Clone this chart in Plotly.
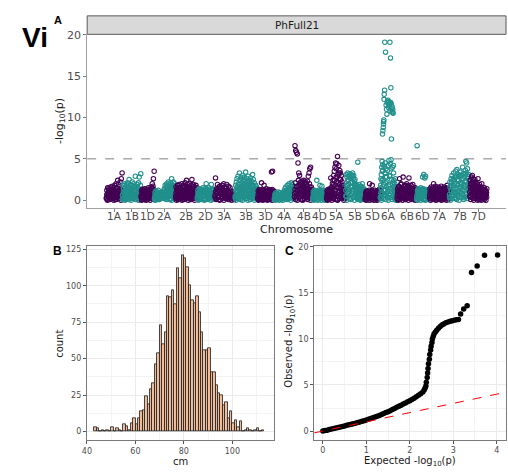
import numpy as np
import plotly.graph_objects as go

W, H = 508, 475
FONT = "DejaVu Sans"
TAG_FONT = "Liberation Sans"
PURPLE = "#440154"
TEAL = "#21908C"
HIST_FILL = "#F2BF9C"
TICK_GREY = "#4D4D4D"

# ---------------- Manhattan data ----------------
CHROMS = ["1A", "1B", "1D", "2A", "2B", "2D", "3A", "3B", "3D", "4A", "4B",
          "4D", "5A", "5B", "5D", "6A", "6B", "6D", "7A", "7B", "7D"]
CHROM_LEN_MB = [594, 689, 495, 780, 801, 651, 750, 831, 615, 745, 674,
                510, 710, 713, 566, 618, 721, 474, 737, 751, 639]

# -log10(p) of each marker (x10), markers listed in chromosome order
LOGP_1A = [3, 12, 6, 15, 1, 9, 14, 4, 11, 7, 16, 2, 13, 8, 5, 17, 10, 3, 15, 6, 12, 18, 1, 9, 20, 4, 14, 7, 24, 11,
           19, 2, 16, 8, 22, 5, 13, 26, 10, 33]
LOGP_1B = [6, 18, 2, 14, 9, 20, 4, 16, 11, 1, 19, 7, 13, 21, 3, 17, 10, 25, 5, 15, 19, 8, 12, 2, 18, 22, 6, 14, 9, 20,
           3, 16, 11, 29, 7, 17, 13, 1, 19, 5, 15, 21, 8, 28, 12, 4, 18, 32]
LOGP_1D = [4, 11, 1, 13, 7, 9, 2, 12, 5, 14, 8, 3, 10, 13, 1, 6, 12, 9, 4, 15, 2, 11, 7, 13, 3, 10, 16, 6, 14, 20,
           9, 17, 26, 12, 35]
LOGP_2A = [3, 9, 1, 11, 6, 8, 2, 10, 4, 12, 7, 1, 9, 5, 8, 6, 10, 7, 9, 6, 8, 5, 11, 2, 14, 7, 18, 4, 16, 9,
           20, 3, 17, 11, 22, 6, 19, 13, 1, 21, 8, 15, 26, 5, 18, 10, 22, 2, 16, 12, 20, 7]
LOGP_2B = [5, 16, 2, 13, 9, 18, 1, 11, 15, 6, 19, 3, 14, 8, 17, 10, 4, 20, 12, 7, 16, 1, 18, 9, 13, 5, 21, 11, 2, 17,
           24, 8, 14, 19, 3, 12, 16, 6, 20, 10, 15, 1, 18, 7, 13, 25, 4, 17, 11, 19, 2, 14, 9, 16, 6, 12, 18, 3, 10, 15]
LOGP_2D = [4, 12, 1, 9, 14, 6, 11, 2, 13, 8, 3, 10, 15, 5, 12, 7, 1, 14, 9, 20, 4, 11, 13, 2, 8, 15, 6, 12, 3, 10,
           19, 7, 14, 1, 9, 13, 5, 11]
LOGP_3A = [6, 27, 2, 14, 9, 19, 4, 12, 16, 1, 17, 8, 15, 11, 3, 18, 7, 13, 20, 5, 16, 10, 2, 14, 19, 8, 12, 4, 17, 9,
           1, 15, 6, 11, 3, 9, 5, 7, 2, 8, 4, 6]
LOGP_3B = [5, 18, 2, 22, 11, 26, 7, 15, 29, 3, 20, 13, 33, 9, 24, 17, 1, 27, 6, 21, 14, 30, 10, 25, 4, 19, 28, 12, 23, 8,
           34, 16, 2, 26, 11, 22, 5, 29, 18, 13, 24, 7, 20, 1, 27, 15, 9, 23, 3, 19, 31, 12, 25, 6, 17, 21, 10, 14, 4, 18,
           8, 16, 2, 12, 6]
LOGP_3D = [3, 11, 1, 9, 13, 5, 12, 7, 2, 10, 21, 4, 13, 8, 1, 11, 6, 18, 9, 3, 12, 5, 10, 14, 2, 8, 12, 6, 11, 1,
           13, 4, 9, 7, 12, 3, 10, 34, 6, 13, 35, 2, 9, 5, 11]
LOGP_4A = [2, 7, 1, 9, 4, 6, 3, 8, 5, 10, 2, 6, 9, 4, 7, 3, 5, 8, 2, 6, 4, 9, 3, 11, 6, 14, 2, 16, 9, 12,
           5, 18, 1, 15, 10, 20, 7, 13, 3, 17, 21, 11, 6, 19, 2, 14, 8, 16]
LOGP_4B = [8, 66, 21, 60, 3, 58, 17, 56, 12, 45, 24, 33, 5, 30, 19, 14, 22, 7, 20, 13, 23, 1, 18, 11, 24, 6, 21, 15, 4, 22,
           10, 19, 3, 17, 23, 8, 29, 14, 33, 20, 38, 12, 40, 5, 16, 9, 13, 2]
LOGP_4D = [3, 10, 1, 8, 12, 5, 9, 2, 11, 6, 24, 4, 10, 7, 1, 12, 8, 3, 18, 9, 5, 11, 2, 17, 7, 10, 4, 12, 6, 1,
           9, 11, 3, 8, 5]
LOGP_5A = [4, 11, 1, 9, 13, 6, 10, 2, 12, 8, 14, 5, 11, 27, 3, 13, 16, 9, 20, 6,
           24, 2, 30, 12, 35, 5, 40, 18, 45, 8, 38, 22, 44, 1, 53, 15, 31, 4, 42, 26,
           19, 36, 7, 33, 25, 14, 30, 3, 22, 12, 18, 4, 15, 9, 13, 2, 10, 6, 12, 3]
LOGP_5B = [12, 31, 5, 28, 18, 33, 9, 25, 30, 14, 32, 2, 27, 21, 31, 8, 29, 16, 33, 11, 26, 30, 4, 23, 17, 20, 6, 15, 10, 18,
           2, 13, 46, 8, 16, 4, 19, 11, 1, 14, 7, 17, 3, 12, 20, 9, 15, 5, 11, 2, 13, 7]
LOGP_5D = [3, 9, 1, 11, 6, 8, 2, 10, 5, 12, 20, 4, 9, 7, 1, 11, 18, 3, 8, 6, 10, 2, 12, 5, 9, 1, 7, 11, 4, 10,
           3, 8, 13, 6, 9]
LOGP_6A = [4, 18, 9, 26, 2, 31, 14, 40, 7, 47,
           35, 80, 43, 84, 25, 88, 92, 95, 97, 122,
           128, 12, 133, 191, 33, 45, 21, 179, 6, 38,
           115, 16, 110, 28, 104, 9, 118, 36, 120, 3,
           121, 42, 112, 19, 119, 48, 114, 116, 30, 117,
           191, 108, 44, 172, 118, 136, 49, 116, 74, 111,
           25, 107, 113, 40, 106, 109, 13, 105, 22, 33,
           11, 24, 6, 17, 3, 20, 8, 14, 2, 10,
           5, 15, 1, 12, 7, 9, 4, 11]
LOGP_6B = [5, 14, 1, 11, 17, 7, 26, 3, 13, 9, 19, 2, 15, 11, 6, 28, 12, 4, 17, 8, 14, 1, 18, 10, 20, 6, 13, 16, 3, 11,
           27, 9, 15, 2, 12, 18, 7, 14, 5, 10, 16, 1, 13, 8, 11, 4, 15, 9, 6, 12]
LOGP_6D = [4, 66, 12, 1, 9, 14, 6, 11, 2, 13, 8, 15, 3, 10, 7, 12, 28, 5, 14, 31, 1, 9, 27, 11, 29, 6, 13, 3, 10, 8,
           12, 2, 9, 5, 11]
LOGP_7A = [6, 14, 2, 11, 16, 8, 12, 3, 15, 9, 20, 5, 13, 1, 17, 10, 7, 14, 4, 12, 16, 2, 11, 8, 15, 6, 13, 1, 10, 17,
           9, 3, 14, 7, 12, 5, 16, 11, 2, 13, 8, 15, 4, 10, 18, 6, 14, 1, 12, 9]
LOGP_7B = [7, 22, 3, 18, 26, 11, 30, 5, 24, 15, 33, 9, 27, 20, 2, 35, 13, 29, 37, 6, 25, 18, 31, 10, 28, 4, 34, 21, 16, 30,
           8, 26, 40, 12, 32, 19, 3, 28, 23, 36, 47, 33, 45, 17, 38, 29, 14, 31, 22, 11]
LOGP_7D = [10, 24, 4, 20, 15, 28, 7, 22, 30, 13, 26, 2, 19, 23, 9, 17, 25, 5, 21, 12, 18, 3, 16, 20, 8, 14, 26, 11, 17, 1,
           15, 19, 6, 13, 10, 16, 3, 12, 20, 7, 14, 9, 11, 2, 13, 8, 15, 5, 10, 12, 4, 11, 7, 9, 14]

# second marker panel (weaker associations), also x10, in chromosome order
LOW_1A = [2, 7, 0, 5, 10, 3, 8, 1, 6, 11, 4, 9, 2, 7, 12, 0, 5, 8, 3, 10, 1, 6, 9, 4, 11, 2, 7, 5, 13, 0, 8, 3]
LOW_1B = [1, 6, 10, 3, 8, 0, 12, 5, 2, 9, 14, 4, 7, 1, 11, 6, 3, 10, 0, 8, 13, 5, 2, 9, 4, 12, 7, 1, 10, 6, 3, 15, 8, 0,
          11, 5, 2, 9]
LOW_1D = [5, 0, 8, 3, 10, 1, 6, 9, 2, 7, 0, 11, 4, 8, 1, 5, 10, 3, 7, 0, 9, 2, 12, 6, 4, 14, 1, 8]
LOW_2A = [1, 5, 0, 7, 3, 6, 2, 8, 4, 1, 6, 3, 5, 2, 7, 4, 6, 3, 8, 5, 2, 9, 4, 11, 1, 7, 13, 3, 10, 6, 15, 2, 9, 12, 0,
          8, 14, 5, 11, 3, 16, 7]
LOW_2B = [3, 9, 0, 7, 12, 4, 10, 1, 8, 14, 5, 2, 11, 6, 0, 9, 13, 3, 7, 10, 1, 5, 12, 8, 2, 15, 4, 9, 0, 11, 6, 3, 13, 7,
          1, 10, 5, 12, 2, 8, 14, 4, 0, 9, 6, 11, 3, 7]
LOW_2D = [2, 8, 0, 6, 11, 3, 9, 1, 5, 12, 4, 7, 0, 10, 2, 8, 13, 5, 1, 9, 3, 11, 6, 0, 7, 12, 4, 9, 2, 6]
LOW_3A = [4, 10, 1, 8, 13, 3, 6, 11, 0, 9, 14, 5, 2, 12, 7, 0, 10, 4, 8, 15, 2, 6, 11, 1, 9, 5, 3, 7, 0, 6, 2, 5, 1, 4]
LOW_3B = [3, 12, 0, 9, 16, 5, 11, 2, 14, 7, 19, 1, 10, 15, 4, 8, 13, 0, 17, 6, 11, 3, 20, 9, 2, 14, 7, 18, 5, 0, 12, 16,
          4, 10, 1, 15, 8, 21, 3, 11, 6, 17, 2, 13, 9, 0, 14, 5, 10, 3, 8, 1]
LOW_3D = [2, 7, 0, 9, 4, 11, 1, 6, 10, 3, 8, 0, 12, 5, 2, 9, 7, 1, 11, 4, 6, 0, 10, 3, 8, 12, 1, 5, 9, 2, 7, 0, 11, 4, 6, 3]
LOW_4A = [1, 4, 0, 6, 2, 5, 1, 7, 3, 0, 5, 2, 4, 1, 6, 3, 0, 4, 2, 7, 5, 9, 1, 11, 4, 8, 13, 2, 10, 6, 14, 0, 9, 12, 3,
          7, 15, 5]
LOW_4B = [4, 13, 1, 10, 16, 6, 0, 12, 8, 18, 3, 14, 9, 1, 11, 15, 5, 0, 13, 7, 17, 2, 10, 4, 12, 19, 6, 1, 14, 9, 3, 11,
          16, 0, 8, 13, 5, 10]
LOW_4D = [1, 6, 0, 8, 3, 10, 2, 5, 9, 0, 7, 4, 11, 1, 6, 8, 3, 0, 9, 5, 2, 10, 4, 7, 0, 6, 3, 8]
LOW_5A = [2, 7, 0, 9, 4, 11, 1, 6, 3, 10, 5, 0, 8, 14, 3, 19, 7, 24, 1, 12, 28, 5, 16, 0, 21, 9, 33, 2, 14, 25, 6, 11, 18,
          3, 8, 13, 0, 7, 10, 4]
LOW_5B = [5, 18, 0, 14, 24, 8, 20, 2, 11, 27, 6, 16, 1, 22, 10, 29, 4, 13, 19, 0, 25, 7, 12, 3, 9, 15, 1, 6, 11, 2, 8, 13,
          0, 10, 5, 14, 3, 9, 1, 12, 6, 4]
LOW_5D = [1, 6, 0, 8, 4, 10, 2, 7, 0, 5, 9, 3, 11, 1, 6, 8, 0, 4, 10, 2, 7, 5, 0, 9, 3, 12, 6, 2]
LOW_6A = [3, 15, 0, 24, 9, 36, 2, 19, 41, 6, 13, 28, 1, 8, 22, 4, 11, 0, 17, 7, 29, 3, 14, 38, 10, 1, 20, 5, 42, 16, 2, 9,
          26, 0, 12, 6]
LOW_6B = [2, 9, 0, 12, 5, 16, 1, 8, 20, 4, 11, 0, 14, 7, 3, 18, 10, 1, 6, 13, 2, 9, 17, 0, 11, 5, 15, 3, 8, 1, 12, 6, 19,
          2, 10, 4, 7, 0, 13, 5]
LOW_6D = [1, 7, 0, 10, 4, 12, 2, 6, 9, 0, 8, 3, 11, 5, 1, 13, 7, 2, 10, 0, 6, 9, 4, 12, 1, 8, 3, 5]
LOW_7A = [3, 10, 0, 8, 13, 5, 1, 11, 7, 2, 14, 4, 9, 0, 12, 6, 3, 10, 1, 15, 8, 2, 11, 5, 0, 9, 13, 4, 7, 1, 12, 3, 10, 6,
          0, 14, 8, 2, 11, 5]
LOW_7B = [4, 16, 0, 12, 21, 7, 2, 18, 10, 25, 3, 14, 28, 8, 1, 20, 11, 5, 24, 0, 15, 30, 9, 3, 19, 13, 6, 26, 1, 17, 11,
          32, 4, 22, 8, 2, 27, 14, 6, 19]
LOW_7D = [5, 16, 1, 12, 19, 8, 3, 14, 21, 10, 0, 17, 6, 13, 2, 18, 9, 4, 15, 11, 0, 8, 13, 3, 10, 6, 1, 12, 4, 9, 0, 11,
          7, 2, 10, 5, 8, 1, 12, 3, 7, 0, 9, 4]

LOGP_BY_CHROM = [LOGP_1A, LOGP_1B, LOGP_1D, LOGP_2A, LOGP_2B, LOGP_2D, LOGP_3A, LOGP_3B, LOGP_3D,
                 LOGP_4A, LOGP_4B, LOGP_4D, LOGP_5A, LOGP_5B, LOGP_5D, LOGP_6A, LOGP_6B, LOGP_6D,
                 LOGP_7A, LOGP_7B, LOGP_7D]
LOW_BY_CHROM = [LOW_1A, LOW_1B, LOW_1D, LOW_2A, LOW_2B, LOW_2D, LOW_3A, LOW_3B, LOW_3D,
                LOW_4A, LOW_4B, LOW_4D, LOW_5A, LOW_5B, LOW_5D, LOW_6A, LOW_6B, LOW_6D,
                LOW_7A, LOW_7B, LOW_7D]
SIG_THRESHOLD = 5

# ---------------- Histogram data ----------------
HIST_CM = [43.5, 44.5, 45.5, 46.5, 47.5, 48.5, 49.5, 50.5, 51.5, 52.5, 53.5, 54.5, 55.5, 56.5,
           57.5, 58.5, 59.5, 60.5, 61.5, 62.5, 63.5, 64.5, 65.5, 66.5, 67.5, 68.5, 69.5, 70.5,
           71.5, 72.5, 73.5, 74.5, 75.5, 76.5, 77.5, 78.5, 79.5, 80.5, 81.5, 82.5, 83.5, 84.5,
           85.5, 86.5, 87.5, 88.5, 89.5, 90.5, 91.5, 92.5, 93.5, 94.5, 95.5, 96.5, 97.5, 98.5,
           99.5, 100.5, 101.5, 102.5, 103.5, 104.5, 105.5, 106.5, 107.5, 108.5, 109.5, 110.5,
           111.5, 112.5]
HIST_COUNT = [3, 2, 0, 1, 0, 1, 0, 3, 0, 2, 1, 0, 5, 4,
              1, 6, 9, 5, 9, 14, 15, 24, 19, 29, 33, 46, 54, 73,
              60, 68, 93, 92, 97, 87, 112, 105, 121, 119, 113, 100, 90, 88,
              93, 82, 68, 56, 56, 57, 41, 41, 32, 26, 25, 18, 20, 9,
              14, 6, 8, 3, 7, 0, 1, 2, 1, 0, 1, 2,
              0, 1]
HIST_BINWIDTH = 1

# ---------------- QQ data ----------------
QQ_EXPECTED = [0.00, 0.05, 0.10, 0.15, 0.20, 0.25, 0.30, 0.35, 0.40, 0.45, 0.50, 0.55, 0.60, 0.65, 0.70, 0.75,
               0.80, 0.85, 0.90, 0.95, 1.00, 1.05, 1.10, 1.15, 1.20, 1.25, 1.30, 1.35, 1.40, 1.45, 1.50, 1.55,
               1.60, 1.65, 1.70, 1.75, 1.80, 1.85, 1.90, 1.95, 2.00, 2.05, 2.10, 2.15, 2.20, 2.25, 2.30,
               2.33, 2.35, 2.37, 2.38, 2.40, 2.41, 2.42, 2.43, 2.45, 2.46, 2.48, 2.49, 2.51, 2.52, 2.54,
               2.56, 2.59, 2.62, 2.66, 2.70, 2.74, 2.78, 2.83, 2.88, 2.93, 2.98, 3.02, 3.07, 3.12,
               3.17, 3.24, 3.32, 3.42, 3.55, 3.72, 4.02]
QQ_OBSERVED = [0.00, 0.05, 0.10, 0.16, 0.21, 0.27, 0.32, 0.38, 0.44, 0.50, 0.56, 0.62, 0.68, 0.74, 0.80, 0.86,
               0.92, 0.99, 1.06, 1.13, 1.20, 1.28, 1.36, 1.44, 1.52, 1.61, 1.70, 1.80, 1.90, 2.00, 2.10, 2.21,
               2.33, 2.45, 2.57, 2.69, 2.81, 2.93, 3.05, 3.17, 3.30, 3.43, 3.57, 3.72, 3.88, 4.05, 4.25,
               4.45, 4.65, 4.90, 5.30, 5.80, 6.30, 6.80, 7.30, 7.80, 8.30, 8.80, 9.20, 9.60, 10.00, 10.30,
               10.55, 10.75, 10.95, 11.15, 11.35, 11.50, 11.62, 11.74, 11.84, 11.92, 11.98, 12.03, 12.07, 12.10,
               12.70, 13.25, 13.60, 17.20, 17.90, 19.07, 19.10]
QQ_LINE_SLOPE = 1


def fx(p):
    return p / W


def fy(p):
    return 1 - p / H


def expanded(lo, hi, frac=0.05):
    pad = (hi - lo) * frac
    return [lo - pad, hi + pad]


def spread(start, length, n, shift):
    return start + (np.arange(n) + shift) * length / n


fig = go.Figure()

# ---- Panel A: Manhattan plot ----
lengths = np.array(CHROM_LEN_MB, dtype=float)
starts = np.concatenate([[0.0], np.cumsum(lengths)[:-1]])
mids = starts + lengths / 2
for k, (vals, low) in enumerate(zip(LOGP_BY_CHROM, LOW_BY_CHROM)):
    xs = np.concatenate([spread(starts[k], lengths[k], len(low), 0.25),
                         spread(starts[k], lengths[k], len(vals), 0.5)])
    ys = np.concatenate([np.array(low), np.array(vals)]) / 10.0
    fig.add_trace(go.Scatter(
        x=xs, y=ys, mode="markers",
        marker=dict(symbol="circle-open", size=4.4,
                    color=PURPLE if k % 2 == 0 else TEAL, line=dict(width=1.1)),
        xaxis="x", yaxis="y", showlegend=False, hoverinfo="skip"))

all_logp = np.concatenate([np.array(v) / 10.0 for v in LOGP_BY_CHROM])
xr_a = expanded(0, lengths.sum())
yr_a = expanded(0, all_logp.max())

# ---- Panel B: histogram ----
fig.add_trace(go.Bar(
    x=HIST_CM, y=HIST_COUNT, width=HIST_BINWIDTH,
    marker=dict(color=HIST_FILL, line=dict(color="#1A1A1A", width=0.8)),
    xaxis="x2", yaxis="y2", showlegend=False, hoverinfo="skip"))
yr_b = expanded(0, max(HIST_COUNT))

# ---- Panel C: QQ plot ----
fig.add_trace(go.Scatter(
    x=QQ_EXPECTED, y=QQ_OBSERVED, mode="markers",
    marker=dict(color="black", size=5.5),
    xaxis="x3", yaxis="y3", showlegend=False, hoverinfo="skip"))
xr_c = expanded(0, max(QQ_EXPECTED))
yr_c = expanded(0, max(QQ_OBSERVED))
fig.add_trace(go.Scatter(
    x=xr_c, y=[QQ_LINE_SLOPE * v for v in xr_c], mode="lines",
    line=dict(color="red", width=1, dash="dash"),
    xaxis="x3", yaxis="y3", showlegend=False, hoverinfo="skip"))

bw_axis = dict(showline=True, mirror=True, linecolor="#7A7A7A", linewidth=1,
               ticks="outside", ticklen=3, tickcolor="#555555", tickwidth=1,
               showgrid=True, gridcolor="#EBEBEB", gridwidth=1, zeroline=False,
               tickfont=dict(size=8, color=TICK_GREY, family=FONT))

fig.update_layout(
    width=W, height=H, margin=dict(l=0, r=0, t=0, b=0),
    paper_bgcolor="white", plot_bgcolor="white",
    font=dict(family=FONT, color="#1A1A1A"),
    showlegend=False, bargap=0,
    xaxis=dict(domain=[fx(83), fx(506)], range=xr_a, anchor="y",
               tickmode="array", tickvals=mids.tolist(), showticklabels=False,
               showline=True, linecolor="#A0A0A0", linewidth=1,
               ticks="outside", ticklen=3, tickcolor="#7F7F7F",
               showgrid=False, zeroline=False),
    yaxis=dict(domain=[fy(204.7), fy(28.7)], range=yr_a, anchor="x",
               tickvals=[0, 5, 10, 15, 20],
               showline=True, linecolor="#A0A0A0", linewidth=1,
               ticks="outside", ticklen=3, tickcolor="#7F7F7F",
               showgrid=False, zeroline=False,
               tickfont=dict(size=11, color=TICK_GREY, family=FONT)),
    xaxis2=dict(bw_axis, domain=[fx(82.7), fx(272)], range=[40, 117.3], anchor="y2",
                tickvals=[40, 60, 80, 100],
                minor=dict(dtick=10, tick0=0, showgrid=True, gridcolor="#F3F3F3", gridwidth=0.6)),
    yaxis2=dict(bw_axis, domain=[fy(440), fy(243.3)], range=yr_b, anchor="x2",
                tickvals=[0, 25, 50, 75, 100, 125],
                minor=dict(dtick=12.5, tick0=0, showgrid=True, gridcolor="#F3F3F3", gridwidth=0.6)),
    xaxis3=dict(bw_axis, domain=[fx(312.2), fx(506.3)], range=xr_c, anchor="y3",
                tickvals=[0, 1, 2, 3, 4],
                minor=dict(dtick=0.5, tick0=0, showgrid=True, gridcolor="#F3F3F3", gridwidth=0.6)),
    yaxis3=dict(bw_axis, domain=[fy(439.4), fy(243.3)], range=yr_c, anchor="x3",
                tickvals=[0, 5, 10, 15, 20],
                minor=dict(dtick=2.5, tick0=0, showgrid=True, gridcolor="#F3F3F3", gridwidth=0.6)),
)

# chromosome labels under their tick marks
for name, mid in zip(CHROMS, mids):
    fig.add_annotation(text=name, x=float(mid), xref="x", y=fy(213), yref="paper",
                       showarrow=False, xanchor="center", yanchor="middle",
                       font=dict(size=10.5, color=TICK_GREY, family=FONT))

# significance threshold in panel A
fig.add_shape(type="line", xref="x domain", yref="y", x0=0, x1=1,
              y0=SIG_THRESHOLD, y1=SIG_THRESHOLD,
              line=dict(color="#808080", width=1, dash="dash"))

# facet strip for panel A
fig.add_shape(type="rect", xref="paper", yref="paper",
              x0=fx(83), x1=fx(506), y0=fy(28.7), y1=fy(10),
              fillcolor="#D9D9D9", line=dict(color="#5A5A5A", width=1))


def label(text, x, y, size, angle=0, color="#1A1A1A", family=FONT):
    fig.add_annotation(text=text, x=fx(x), y=fy(y), xref="paper", yref="paper",
                       showarrow=False, textangle=angle, xanchor="center", yanchor="middle",
                       font=dict(size=size, color=color, family=family))


label("PhFull21", 294.5, 19.4, 10.5)
label("<b>Vi</b>", 30, 32, 28, color="black", family=TAG_FONT)
label("<b>A</b>", 54, 14, 11, color="black", family=TAG_FONT)
label("<b>B</b>", 53, 248, 12, color="black", family=TAG_FONT)
label("<b>C</b>", 287, 248, 12, color="black", family=TAG_FONT)
label("-log<sub>10</sub>(p)", 55, 116, 11, angle=-90)
label("Chromosome", 294.5, 226, 11)
label("count", 55, 341.7, 10, angle=-90)
label("cm", 177, 461, 10)
label("Observed -log<sub>10</sub>(p)", 288, 340, 10, angle=-90)
label("Expected -log<sub>10</sub>(p)", 409, 461, 10)

fig.write_html("out.html")
